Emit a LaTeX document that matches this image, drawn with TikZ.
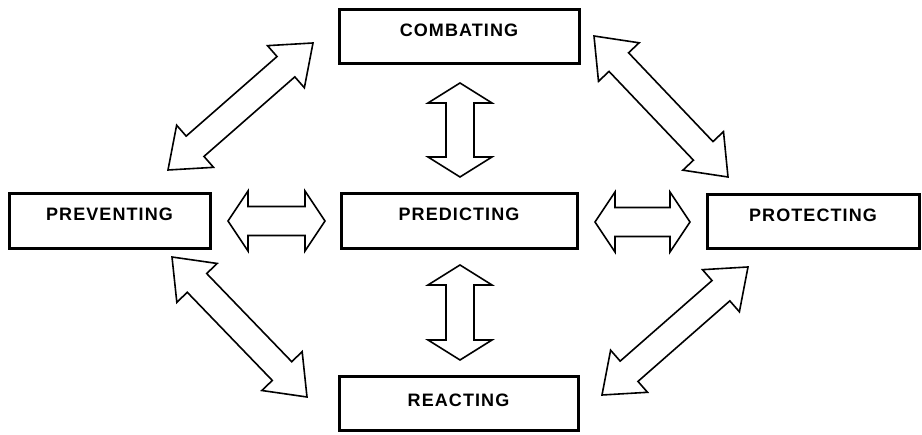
\documentclass[tikz,border=0pt]{standalone}
\usepackage{fontspec}
\setmainfont{Liberation Sans}[LetterSpace=6]
\usetikzlibrary{calc}
\tikzset{
  box/.style={draw=black, line width=3pt, fill=white, inner sep=0pt,
    font=\fontsize{18}{20}\selectfont\bfseries,
    text height=13pt, text depth=14pt},
  barrow/.style={draw=black, line width=1.6pt, line join=miter, fill=white}
}
\newcommand\blockarrow[5]{%
  \draw[barrow] (#1)
  -- ($(#1)!#3!(#2)!#4!90:(#2)$)
  -- ($(#1)!#3!(#2)!#5!90:(#2)$)
  -- ($(#2)!#3!(#1)!#5!-90:(#1)$)
  -- ($(#2)!#3!(#1)!#4!-90:(#1)$)
  -- (#2)
  -- ($(#2)!#3!(#1)!#4!90:(#1)$)
  -- ($(#2)!#3!(#1)!#5!90:(#1)$)
  -- ($(#1)!#3!(#2)!#5!-90:(#2)$)
  -- ($(#1)!#3!(#2)!#4!-90:(#2)$)
  -- cycle;}
\begin{document}
\begin{tikzpicture}[x=1pt,y=1pt]
\useasboundingbox (0,0) rectangle (922,435);
% boxes
\node[box, minimum width=240pt, minimum height=54pt] (comb) at (459,398) {COMBATING};
\node[box, minimum width=201pt, minimum height=55pt] (prev) at (109.5,213.5) {PREVENTING};
\node[box, minimum width=236pt, minimum height=55pt] (pred) at (459,213.5) {PREDICTING};
\node[box, minimum width=212pt, minimum height=54pt] (prot) at (813,213) {PROTECTING};
\node[box, minimum width=239pt, minimum height=54pt, text depth=8pt] (reac) at (458.5,31) {REACTING};
% arrow end points
\coordinate (v1a) at (460,352); \coordinate (v1b) at (460,258);
\coordinate (v2a) at (460,170); \coordinate (v2b) at (460,75);
\coordinate (h1a) at (228,214); \coordinate (h1b) at (325,214);
\coordinate (h2a) at (595,213); \coordinate (h2b) at (690,213);
\coordinate (nwa) at (313,392); \coordinate (nwb) at (168,265);
\coordinate (nea) at (594,399); \coordinate (neb) at (728,258);
\coordinate (swa) at (172,178); \coordinate (swb) at (307,38);
\coordinate (sea) at (748,168); \coordinate (seb) at (602,40);
% arrows
\blockarrow{v1a}{v1b}{20pt}{32pt}{14pt}
\blockarrow{v2a}{v2b}{20pt}{32pt}{14pt}
\blockarrow{h1a}{h1b}{20pt}{30pt}{14.5pt}
\blockarrow{h2a}{h2b}{20pt}{30pt}{14.5pt}
\blockarrow{nwa}{nwb}{36pt}{28pt}{13.5pt}
\blockarrow{nea}{neb}{36pt}{28pt}{13.5pt}
\blockarrow{swa}{swb}{36pt}{28pt}{13.5pt}
\blockarrow{sea}{seb}{36pt}{28pt}{13.5pt}
\end{tikzpicture}
\end{document}
